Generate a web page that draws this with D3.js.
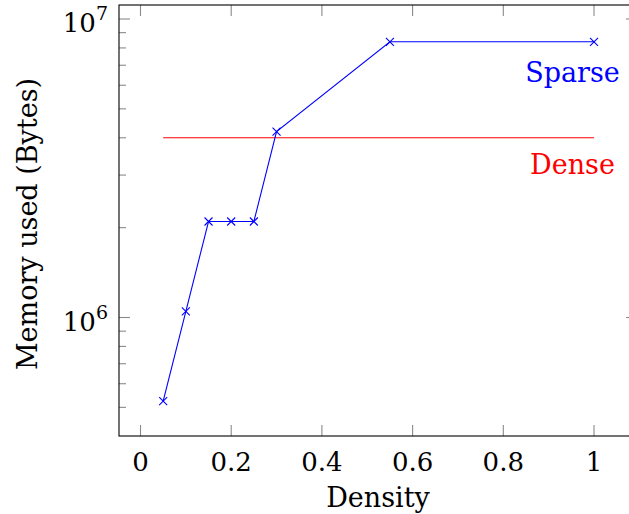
<!DOCTYPE html>
<html>
<head>
<meta charset="utf-8">
<script src="https://cdn.jsdelivr.net/npm/d3@7"></script>
<style>
  html, body { margin: 0; padding: 0; background: #fff; }
  svg { display: block; }
</style>
</head>
<body>
<svg id="chart" width="629" height="514"></svg>
<script>
// ---- data ----
const density = [0.05, 0.1, 0.15, 0.2, 0.25, 0.3, 0.55, 1.0];
const sparseBytes = [524288, 1048576, 2097152, 2097152, 2097152, 4194304, 8388608, 8388608];
const denseDensity = [0.05, 1.0];
const denseBytes = [4000000, 4000000];
const xTicks = [0, 0.2, 0.4, 0.6, 0.8, 1];
const xTickLabels = ["0", "0.2", "0.4", "0.6", "0.8", "1"];
const yMajorTicks = [1e6, 1e7];
const yMajorExp = ["6", "7"];
const yMinorTicks = [5e5, 6e5, 7e5, 8e5, 9e5, 2e6, 3e6, 4e6, 5e6, 6e6, 7e6, 8e6, 9e6];
const xTitle = "Density";
const yTitle = "Memory used (Bytes)";
const seriesLabels = ["Sparse", "Dense"];

// ---- layout ----
const box = { left: 119, right: 637, top: 5, bottom: 436 };
const FONT = "'DejaVu Serif', serif";
const FS = 26, FT = 27;
const svg = d3.select("#chart");

const x = d3.scaleLinear().domain([0, 1]).range([140.5, 594]);
const y = d3.scaleLog().domain([1e6, 1e7]).range([317.5, 19]);

const tickColor = "#8a8a8a";
const majorLen = 11, minorLen = 7;

// ticks (inside, both sides)
const g = svg.append("g");
xTicks.forEach(t => {
  g.append("line").attr("x1", x(t)).attr("x2", x(t)).attr("y1", box.bottom).attr("y2", box.bottom - majorLen)
    .attr("stroke", tickColor).attr("stroke-width", 1.1);
  g.append("line").attr("x1", x(t)).attr("x2", x(t)).attr("y1", box.top).attr("y2", box.top + majorLen)
    .attr("stroke", tickColor).attr("stroke-width", 1.1);
});
yMajorTicks.forEach(t => {
  g.append("line").attr("x1", box.left).attr("x2", box.left + majorLen).attr("y1", y(t)).attr("y2", y(t))
    .attr("stroke", tickColor).attr("stroke-width", 1.1);
  g.append("line").attr("x1", box.right).attr("x2", box.right - majorLen).attr("y1", y(t)).attr("y2", y(t))
    .attr("stroke", tickColor).attr("stroke-width", 1.1);
});
yMinorTicks.forEach(t => {
  g.append("line").attr("x1", box.left).attr("x2", box.left + minorLen).attr("y1", y(t)).attr("y2", y(t))
    .attr("stroke", tickColor).attr("stroke-width", 1.1);
  g.append("line").attr("x1", box.right).attr("x2", box.right - minorLen).attr("y1", y(t)).attr("y2", y(t))
    .attr("stroke", tickColor).attr("stroke-width", 1.1);
});

// frame
svg.append("rect").attr("x", box.left).attr("y", box.top)
  .attr("width", box.right - box.left).attr("height", box.bottom - box.top)
  .attr("fill", "none").attr("stroke", "#000").attr("stroke-width", 1.1);

// x tick labels
xTicks.forEach((t, i) => {
  svg.append("text").attr("x", x(t)).attr("y", 471).attr("text-anchor", "middle")
    .attr("font-family", FONT).attr("font-size", FS).attr("fill", "#000").text(xTickLabels[i]);
});
// y tick labels 10^n
yMajorTicks.forEach((t, i) => {
  const tx = svg.append("text").attr("x", 108).attr("y", y(t) + 13).attr("text-anchor", "end")
    .attr("font-family", FONT).attr("font-size", FS).attr("fill", "#000");
  tx.append("tspan").text("10");
  tx.append("tspan").attr("font-size", 19).attr("dy", -12).text(yMajorExp[i]);
});

// axis titles
svg.append("text").attr("x", (box.left + box.right) / 2).attr("y", 507).attr("text-anchor", "middle")
  .attr("font-family", FONT).attr("font-size", FT).attr("fill", "#000").text(xTitle);
svg.append("text").attr("transform", "translate(37,224) rotate(-90)").attr("text-anchor", "middle")
  .attr("font-family", FONT).attr("font-size", FT).attr("fill", "#000").text(yTitle);

// lines
const line = d3.line().x(d => x(d[0])).y(d => y(d[1]));
const sparsePts = density.map((d, i) => [d, sparseBytes[i]]);
const densePts = denseDensity.map((d, i) => [d, denseBytes[i]]);

svg.append("path").attr("d", line(densePts)).attr("fill", "none").attr("stroke", "#ff0000").attr("stroke-width", 1.1);
svg.append("path").attr("d", line(sparsePts)).attr("fill", "none").attr("stroke", "#0000ff").attr("stroke-width", 1.1);

const m = 4;
svg.append("g").selectAll("path").data(sparsePts).join("path")
  .attr("d", d => {
    const cx = x(d[0]), cy = y(d[1]);
    return `M${cx - m},${cy - m}L${cx + m},${cy + m}M${cx - m},${cy + m}L${cx + m},${cy - m}`;
  })
  .attr("stroke", "#0000ff").attr("stroke-width", 1.1).attr("fill", "none");

// series labels
svg.append("text").attr("x", 572.5).attr("y", 81.5).attr("text-anchor", "middle")
  .attr("font-family", FONT).attr("font-size", FT).attr("fill", "#0000ff").text(seriesLabels[0]);
svg.append("text").attr("x", 572.5).attr("y", 174).attr("text-anchor", "middle")
  .attr("font-family", FONT).attr("font-size", FT).attr("fill", "#ff0000").text(seriesLabels[1]);
</script>
</body>
</html>
